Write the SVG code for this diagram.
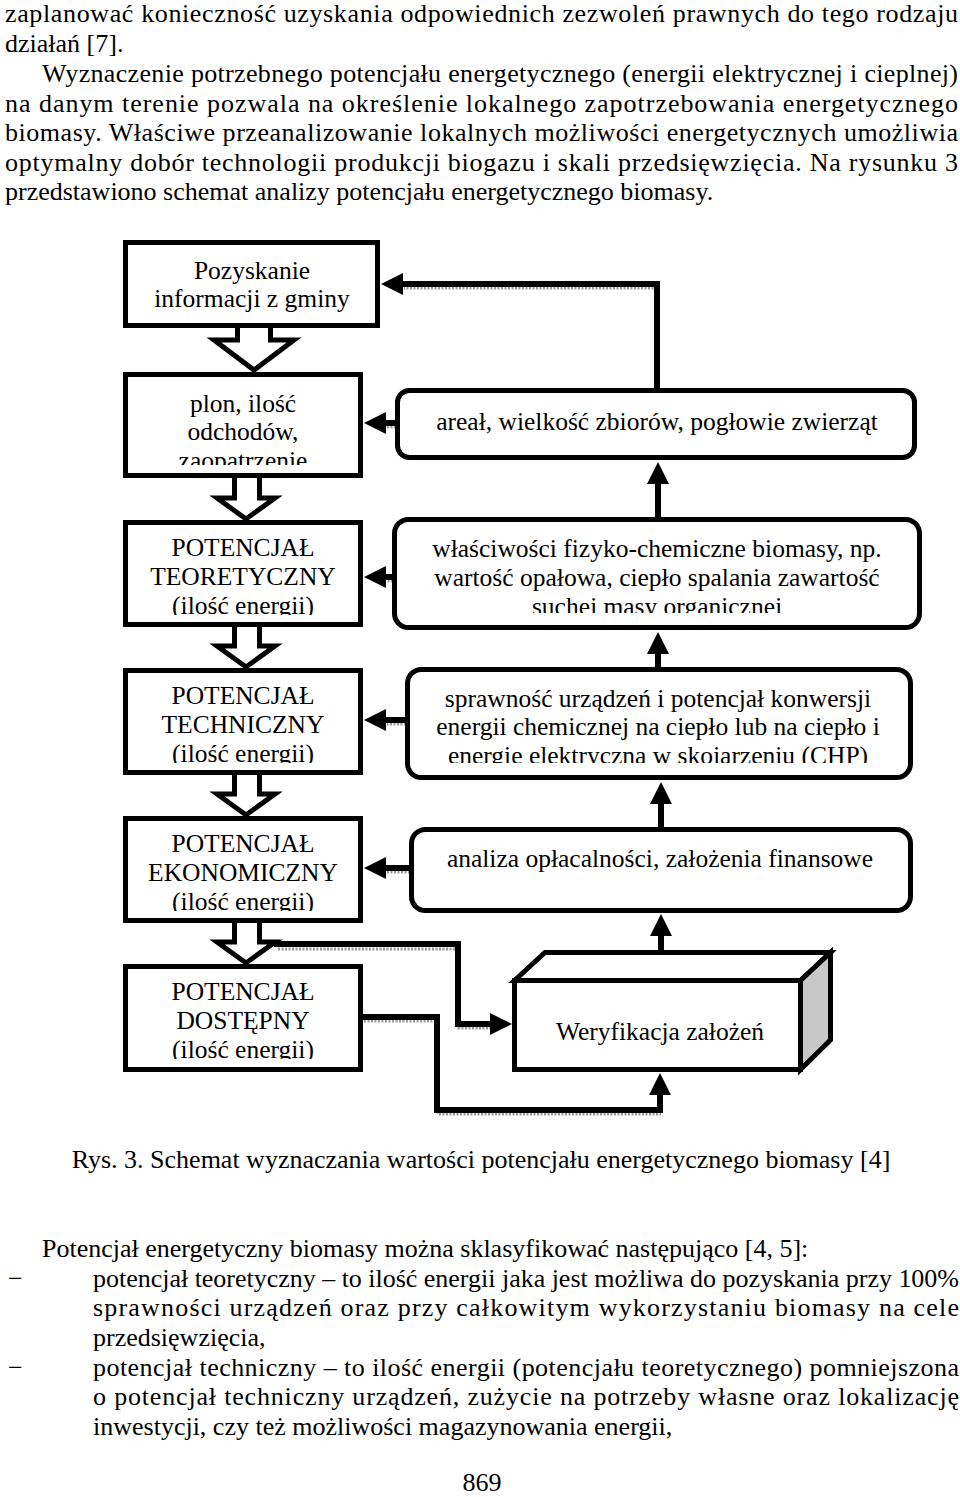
<svg xmlns="http://www.w3.org/2000/svg" width="960" height="1497" viewBox="0 0 960 1497">
<style>
text{font-family:"Liberation Serif","Times New Roman",serif;fill:#000}
.body{font-size:26px}
.lbl{font-size:25.5px;text-anchor:middle}
.box{fill:#fff;stroke:#000;stroke-width:5}
.rbox{fill:#fff;stroke:#000;stroke-width:5}
.blk{fill:#fff;stroke:#000;stroke-width:5;stroke-linejoin:miter}
.con{fill:none;stroke:#000;stroke-width:6;stroke-linejoin:miter}
.sh{fill:none;stroke:#9a9a9a;stroke-width:3;stroke-dasharray:2 1.5}
</style>
<defs>
<marker id="ah" viewBox="0 0 22 22" refX="0" refY="11" markerWidth="22" markerHeight="22" markerUnits="userSpaceOnUse" orient="auto">
<path d="M0,0 L22,11 L0,22 z" fill="#000"/>
</marker>
<clipPath id="c2"><rect x="128" y="376" width="232" height="89"/></clipPath>
<clipPath id="c3"><rect x="128" y="524" width="232" height="91"/></clipPath>
<clipPath id="c4"><rect x="128" y="672" width="232" height="91"/></clipPath>
<clipPath id="c5"><rect x="128" y="820" width="232" height="91"/></clipPath>
<clipPath id="c6"><rect x="128" y="968" width="232" height="91"/></clipPath>
<clipPath id="cr2"><rect x="398" y="521" width="520" height="92"/></clipPath>
<clipPath id="cr3"><rect x="410" y="671" width="500" height="92"/></clipPath>
</defs>
<rect width="960" height="1497" fill="#fff"/>

<g id="text-top" class="body">
<text x="5" y="22" textLength="953" lengthAdjust="spacing">zaplanować konieczność uzyskania odpowiednich zezwoleń prawnych do tego rodzaju</text>
<text x="5" y="52">działań [7].</text>
<text x="42" y="82" textLength="916" lengthAdjust="spacing">Wyznaczenie potrzebnego potencjału energetycznego (energii elektrycznej i cieplnej)</text>
<text x="5" y="112" textLength="953" lengthAdjust="spacing">na danym terenie pozwala na określenie lokalnego zapotrzebowania energetycznego</text>
<text x="5" y="141" textLength="953" lengthAdjust="spacing">biomasy. Właściwe przeanalizowanie lokalnych możliwości energetycznych umożliwia</text>
<text x="5" y="171" textLength="953" lengthAdjust="spacing">optymalny dobór technologii produkcji biogazu i skali przedsięwzięcia. Na rysunku 3</text>
<text x="5" y="200">przedstawiono schemat analizy potencjału energetycznego biomasy.</text>
</g>

<g id="block-arrows">
<path class="blk" d="M237.5,326 V340 H214 L254,370 L294,340 H270.5 V326"/>
<path class="blk" d="M234.5,476 V498 H217 L246,519 L275,498 H259.5 V476"/>
<path class="blk" d="M234.5,625 V646 H217 L246,667 L275,646 H259.5 V625"/>
<path class="blk" d="M234.5,773 V794 H217 L246,815 L275,794 H259.5 V773"/>
<path class="blk" d="M234.5,921 V942 H217 L246,963 L275,942 H259.5 V921"/>
</g>

<g id="connectors">
<g transform="translate(1,4)">
<path class="sh" d="M657,388 V284 H403"/>
<path class="sh" d="M395,423 H386"/>
<path class="sh" d="M392,577 H386"/>
<path class="sh" d="M405,720 H386"/>
<path class="sh" d="M409,868 H386"/>
<path class="sh" d="M277,945 H458 V1024 H490"/>
<path class="sh" d="M363,1017 H437 V1110 H660"/>
</g>
<path class="con" d="M657,388 V284 H403" marker-end="url(#ah)"/>
<path class="con" d="M395,423 H386" marker-end="url(#ah)"/>
<path class="con" d="M658,517 V484" marker-end="url(#ah)"/>
<path class="con" d="M392,577 H386" marker-end="url(#ah)"/>
<path class="con" d="M658,667 V654" marker-end="url(#ah)"/>
<path class="con" d="M405,720 H386" marker-end="url(#ah)"/>
<path class="con" d="M661,827 V804" marker-end="url(#ah)"/>
<path class="con" d="M409,868 H386" marker-end="url(#ah)"/>
<path class="con" d="M661,950 V936" marker-end="url(#ah)"/>
<path class="con" d="M274,944 H458 V1024 H490" marker-end="url(#ah)"/>
<path class="con" d="M363,1017 H437 V1110 H660 V1095" marker-end="url(#ah)"/>
</g>

<g id="n-pozyskanie">
<rect class="box" x="125.5" y="242.5" width="252" height="83"/>
<text class="lbl" x="252" y="279">Pozyskanie</text>
<text class="lbl" x="252" y="307">informacji z gminy</text>
</g>
<g id="n-plon">
<rect class="box" x="125.5" y="374.5" width="235" height="101"/>
<g clip-path="url(#c2)">
<text class="lbl" x="243" y="412">plon, ilość</text>
<text class="lbl" x="243" y="440">odchodów,</text>
<text class="lbl" x="243" y="469">zaopatrzenie</text>
</g>
</g>
<g id="n-teoretyczny">
<rect class="box" x="125.5" y="522.5" width="235" height="102"/>
<g clip-path="url(#c3)">
<text class="lbl" x="243" y="556">POTENCJAŁ</text>
<text class="lbl" x="243" y="585">TEORETYCZNY</text>
<text class="lbl" x="243" y="614">(ilość energii)</text>
</g>
</g>
<g id="n-techniczny">
<rect class="box" x="125.5" y="670.5" width="235" height="102"/>
<g clip-path="url(#c4)">
<text class="lbl" x="243" y="704">POTENCJAŁ</text>
<text class="lbl" x="243" y="733">TECHNICZNY</text>
<text class="lbl" x="243" y="762">(ilość energii)</text>
</g>
</g>
<g id="n-ekonomiczny">
<rect class="box" x="125.5" y="818.5" width="235" height="102"/>
<g clip-path="url(#c5)">
<text class="lbl" x="243" y="852">POTENCJAŁ</text>
<text class="lbl" x="243" y="881">EKONOMICZNY</text>
<text class="lbl" x="243" y="910">(ilość energii)</text>
</g>
</g>
<g id="n-dostepny">
<rect class="box" x="125.5" y="966.5" width="235" height="103"/>
<g clip-path="url(#c6)">
<text class="lbl" x="243" y="1000">POTENCJAŁ</text>
<text class="lbl" x="243" y="1029">DOSTĘPNY</text>
<text class="lbl" x="243" y="1058">(ilość energii)</text>
</g>
</g>

<g id="n-areal">
<rect class="rbox" x="397.5" y="390.5" width="517" height="67" rx="12"/>
<text class="lbl" x="657" y="430">areał, wielkość zbiorów, pogłowie zwierząt</text>
</g>
<g id="n-wlasciwosci">
<rect class="rbox" x="394.5" y="519.5" width="525" height="108" rx="14"/>
<g clip-path="url(#cr2)">
<text class="lbl" x="657" y="557">właściwości fizyko-chemiczne biomasy, np.</text>
<text class="lbl" x="657" y="586">wartość opałowa, ciepło spalania zawartość</text>
<text class="lbl" x="657" y="615">suchej masy organicznej</text>
</g>
</g>
<g id="n-sprawnosc">
<rect class="rbox" x="407.5" y="669.5" width="503" height="108" rx="14"/>
<g clip-path="url(#cr3)">
<text class="lbl" x="658" y="707">sprawność urządzeń i potencjał konwersji</text>
<text class="lbl" x="658" y="735">energii chemicznej na ciepło lub na ciepło i</text>
<text class="lbl" x="658" y="764">energię elektryczną w skojarzeniu (CHP)</text>
</g>
</g>
<g id="n-analiza">
<rect class="rbox" x="411.5" y="829.5" width="499" height="81" rx="14"/>
<text class="lbl" x="660" y="867">analiza opłacalności, założenia finansowe</text>
</g>
<g id="n-weryfikacja">
<polygon class="box" points="514.5,980.5 545,952.5 830.5,952.5 800.5,980.5"/>
<polygon points="800.5,980.5 830.5,952.5 830.5,1040 800.5,1069.5" fill="#c8c8c8" stroke="#000" stroke-width="5" stroke-linejoin="miter"/>
<rect class="box" x="514.5" y="980.5" width="286" height="89"/>
<text class="lbl" x="660" y="1040">Weryfikacja założeń</text>
</g>

<g id="text-bottom" class="body">
<text x="481" y="1168" text-anchor="middle">Rys. 3. Schemat wyznaczania wartości potencjału energetycznego biomasy [4]</text>
<text x="42" y="1257">Potencjał energetyczny biomasy można sklasyfikować następująco [4, 5]:</text>
<text x="8" y="1287">−</text>
<text x="93" y="1287" textLength="866" lengthAdjust="spacing">potencjał teoretyczny – to ilość energii jaka jest możliwa do pozyskania przy 100%</text>
<text x="93" y="1316" textLength="866" lengthAdjust="spacing">sprawności urządzeń oraz przy całkowitym wykorzystaniu biomasy na cele</text>
<text x="93" y="1346">przedsięwzięcia,</text>
<text x="8" y="1376">−</text>
<text x="93" y="1376" textLength="866" lengthAdjust="spacing">potencjał techniczny – to ilość energii (potencjału teoretycznego) pomniejszona</text>
<text x="93" y="1405" textLength="866" lengthAdjust="spacing">o potencjał techniczny urządzeń, zużycie na potrzeby własne oraz lokalizację</text>
<text x="93" y="1435">inwestycji, czy też możliwości magazynowania energii,</text>
<text x="482" y="1491" text-anchor="middle">869</text>
</g>
</svg>
